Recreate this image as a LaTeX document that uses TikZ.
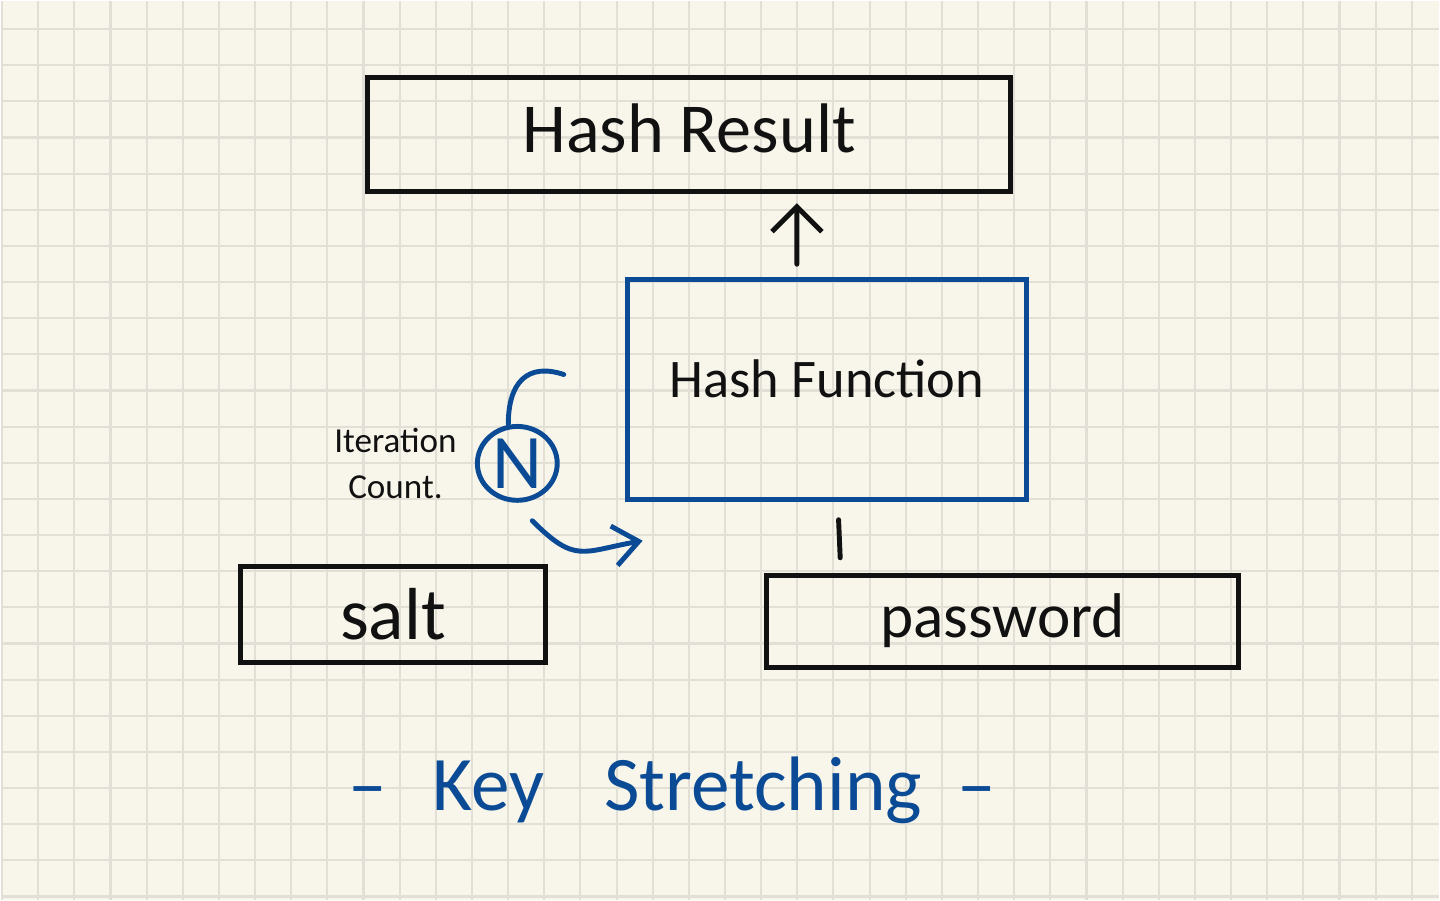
\documentclass[tikz,border=0pt]{standalone}
\usepackage{fontspec}
\setmainfont{Carlito}
\usetikzlibrary{arrows.meta,shapes.geometric}
\usetikzlibrary{positioning}
\definecolor{paper}{HTML}{F8F6EB}
\definecolor{gridline}{HTML}{E2E0D6}
\definecolor{penblue}{HTML}{0B4A94}
\definecolor{penblack}{HTML}{111111}
\tikzset{>={Straight Barb[length=2.5mm,width=5mm]}}

\begin{document}
\begin{tikzpicture}[box/.style={draw=penblack, line width=1.4pt, inner sep=0pt, text=penblack}, bluebox/.style={draw=penblue, line width=1.4pt, inner sep=0pt, text=penblack}, pen/.style={line width=1.4pt, line cap=round, line join=round}, node distance=1cm, on grid]
		% paper
		\fill[paper] (0,0) rectangle (14.4,9);
		\foreach \i in {0,...,39} \draw[gridline, line width=0.6pt] (0.01+\i*0.362,0) -- (0.01+\i*0.362,9);
		\foreach \j in {0,...,24} \draw[gridline, line width=0.6pt] (0,8.72-\j*0.362) -- (14.4,8.72-\j*0.362);
		\useasboundingbox (0,0) rectangle (14.4,9);
		% boxes
		\node[box, minimum width=6.44cm, minimum height=1.14cm, text depth=1.4mm, font=\fontsize{20}{24}\selectfont] (result) at (6.89,7.66) {Hash Result};
		\node[bluebox, minimum width=4cm, minimum height=2.2cm, text depth=2.2mm, font=\fontsize{15.5}{19}\selectfont] (func) [below right=2.55cm and 1.38cm of result] {Hash Function};
		\node[box, minimum width=3.05cm, minimum height=0.96cm, font=\fontsize{21}{24}\selectfont] (salt) [below left=2.25cm and 4.345cm of func] {salt};
		\node[box, minimum width=4.72cm, minimum height=0.92cm, font=\fontsize{18}{22}\selectfont] (pw) [below right=2.32cm and 1.76cm of func] {password};
		\node[draw=penblue, ellipse, line width=1.4pt, minimum width=0.8cm, minimum height=0.74cm, inner sep=0pt, text=penblue, font=\fontsize{22}{22}\selectfont] (count) [below left=0.74cm and 3.10cm of func] {N};
		\node[text=penblack, align=center, font=\fontsize{10}{13}\selectfont] (iter) [left=1.22cm of count] {Iteration\\Count.};
		\node[text=penblue, font=\fontsize{22}{26}\selectfont] (title) [below right=1.76cm and 2.795cm of salt] {–\hspace{13pt}Key\hspace{17pt}Stretching\hspace{10pt}–};
		\coordinate (loopend) at ([shift={(-0.61,0.15)}]func.west);
		% connectors
		\draw[pen, penblack, ->, shorten <=1.3mm, shorten >=0.9mm] ([xshift=-3mm]func.north) -- ([xshift=10.8mm]result.south);
		\draw[pen, penblack, shorten <=1.8mm, shorten >=1.5mm] ([xshift=1.1mm]func.south) -- ([xshift=-16.2mm]pw.north);
		\draw[pen, penblue] ([xshift=-0.9mm]count.north) .. controls +(0,0.42) and +(-0.36,0.12) .. (loopend);
		\draw[pen, penblue, -{Straight Barb[length=2.5mm,width=4mm]}] ([shift={(0.15,-0.18)}]count.south) to[out=-45, in=190, looseness=1.4] ([shift={(0.18,-0.39)}]func.south west);
	\end{tikzpicture}
\end{document}
